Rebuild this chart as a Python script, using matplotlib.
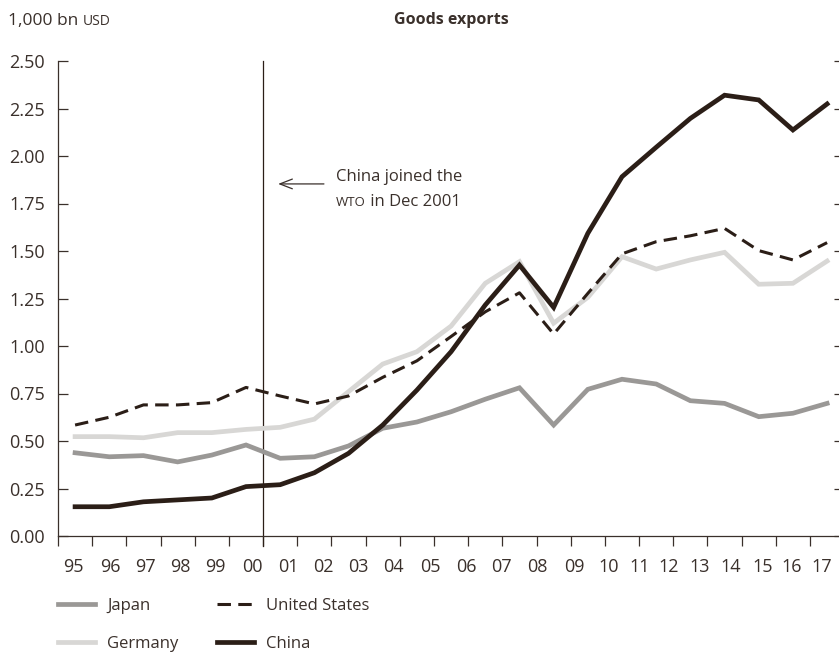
import matplotlib
matplotlib.use("Agg")
import matplotlib.pyplot as plt

# ---------------- data ----------------
year_labels = ['95', '96', '97', '98', '99', '00', '01', '02', '03', '04', '05', '06',
               '07', '08', '09', '10', '11', '12', '13', '14', '15', '16', '17']

japan = [0.438, 0.417, 0.423, 0.390, 0.426, 0.479, 0.409, 0.417, 0.474, 0.567, 0.600, 0.654,
         0.720, 0.780, 0.584, 0.772, 0.825, 0.800, 0.712, 0.698, 0.628, 0.646, 0.698]
germany = [0.523, 0.523, 0.517, 0.544, 0.544, 0.561, 0.572, 0.615, 0.760, 0.905, 0.970, 1.105,
           1.330, 1.444, 1.120, 1.256, 1.470, 1.405, 1.453, 1.493, 1.325, 1.330, 1.447]
united_states = [0.584, 0.625, 0.690, 0.690, 0.702, 0.782, 0.737, 0.695, 0.737, 0.835, 0.922, 1.050,
                 1.180, 1.280, 1.063, 1.277, 1.485, 1.549, 1.580, 1.619, 1.502, 1.453, 1.544]
china = [0.154, 0.154, 0.180, 0.190, 0.200, 0.260, 0.270, 0.333, 0.435, 0.584, 0.768, 0.970,
         1.216, 1.426, 1.203, 1.593, 1.891, 2.046, 2.198, 2.320, 2.295, 2.137, 2.274]

y_ticks = [0.00, 0.25, 0.50, 0.75, 1.00, 1.25, 1.50, 1.75, 2.00, 2.25, 2.50]

# ---------------- layout ----------------
# x positions of the year labels as placed in the original graphic (axis units)
label_pos = [0.44, 1.52, 2.55, 3.57, 4.60, 5.68, 6.73, 7.75, 8.78, 9.80, 10.88, 11.94,
             12.96, 14.01, 15.10, 16.12, 17.03, 17.85, 18.78, 19.69, 20.60, 21.47, 22.35]

TXT = '#3a302b'
DARK = '#2b1e17'
C_JAPAN = '#9a9896'
C_GERMANY = '#d8d7d5'

plt.rcParams['font.family'] = ['Open Sans', 'DejaVu Sans']

W, H = 839, 654
fig = plt.figure(figsize=(W / 100, H / 100), dpi=100)
ax = fig.add_axes([58 / W, 1 - 536 / H, 786.2 / W, 475 / H])

x = [i + 0.5 for i in range(len(year_labels))]

l_ger, = ax.plot(x, germany, color=C_GERMANY, lw=3.4, solid_joinstyle='miter', label='Germany', zorder=3)
l_jap, = ax.plot(x, japan, color=C_JAPAN, lw=3.4, solid_joinstyle='miter', label='Japan', zorder=3)
l_us, = ax.plot(x, united_states, color=DARK, lw=2.2, dashes=(4.4, 2.4), label='United States', zorder=4)
l_chn, = ax.plot(x, china, color=DARK, lw=3.4, solid_joinstyle='miter', label='China', zorder=5)

ax.set_xlim(0, len(year_labels))
ax.set_ylim(0, 2.5)

for s in ['top', 'right']:
    ax.spines[s].set_visible(False)
for s in ['left', 'bottom']:
    ax.spines[s].set_color(TXT)
    ax.spines[s].set_linewidth(0.9)

ax.set_yticks(y_ticks)
ax.set_yticklabels([f'{v:.2f}' for v in y_ticks])
ax.tick_params(axis='y', which='major', direction='in', length=7.2, width=0.9, color=TXT,
               left=True, right=True, labelsize=13, labelcolor=TXT, pad=9.5)

ax.set_xticks(range(0, len(year_labels) + 1))
ax.set_xticklabels([])
ax.tick_params(axis='x', which='major', direction='out', length=7.2, width=0.9, color=TXT)
ax.set_xticks(label_pos, year_labels, minor=True)
ax.tick_params(axis='x', which='minor', length=0, labelsize=13, labelcolor=TXT, pad=15.5)

# vertical WTO line
ax.axvline(6, ymin=-10 / 475, ymax=1, color=DARK, lw=0.9, clip_on=False, zorder=2)

# annotation
ax.annotate('', xy=(6.44, 1.853), xytext=(7.78, 1.853),
            arrowprops=dict(arrowstyle='->,head_length=0.9,head_width=0.35', color=TXT, lw=0.9,
                            shrinkA=0, shrinkB=0))
ax.text(8.13, 1.89, 'China joined the', fontsize=12, color=TXT, va='center', ha='left')
t_wto = ax.text(8.13, 1.735, 'WTO', fontsize=9.5, color=TXT, va='baseline', ha='left')
ax.annotate(' in Dec 2001', xy=(1, 1.735), xycoords=(t_wto, 'data'), fontsize=12, color=TXT,
            va='baseline', ha='left', annotation_clip=False)

# header texts
y_head = 1 - 25 / H
t_unit = fig.text(8 / W, y_head, '1,000 bn ', fontsize=12.5, color=TXT, va='baseline', ha='left')
ax.annotate('USD', xy=(1, y_head), xycoords=(t_unit, 'figure fraction'), fontsize=10, color=TXT,
            va='baseline', ha='left', annotation_clip=False)
fig.text(451 / W, 1 - 24 / H, 'Goods exports', fontsize=11.5, fontweight='bold',
         color=TXT, va='baseline', ha='center')

# legend
handles = [l_jap, l_ger, l_us, l_chn]
leg = fig.legend(handles=handles, labels=[h.get_label() for h in handles], ncol=2,
                 loc='upper left', bbox_to_anchor=(58 / W, 1 - 598 / H), frameon=False,
                 fontsize=12, labelcolor=TXT, handlelength=2.22, handletextpad=0.72,
                 columnspacing=2.3, labelspacing=1.29, borderaxespad=0, borderpad=0)

fig.savefig('out.png', dpi=100)
